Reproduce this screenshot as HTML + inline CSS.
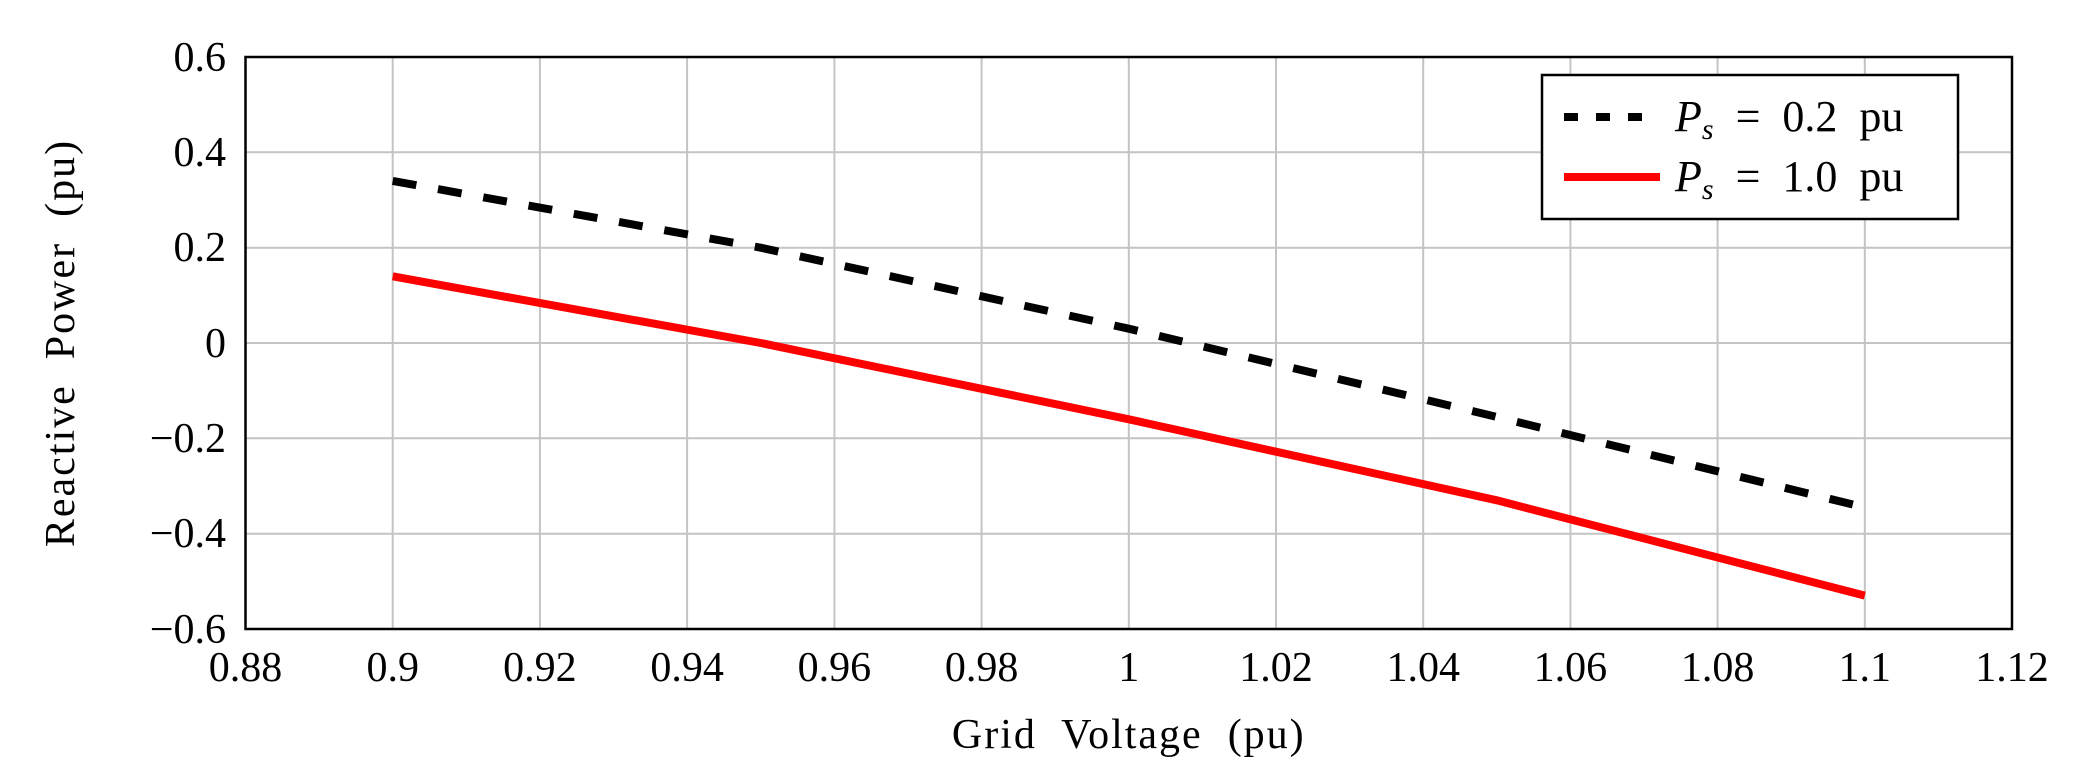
<!DOCTYPE html>
<html><head><meta charset="utf-8"><style>body{margin:0;background:#fff}</style></head><body>
<svg width="2090" height="778" xmlns="http://www.w3.org/2000/svg" font-family="'Liberation Serif', serif">
<g stroke="#c4c4c4" stroke-width="2">
<line x1="392.7" y1="57" x2="392.7" y2="629"/><line x1="539.9" y1="57" x2="539.9" y2="629"/><line x1="687.1" y1="57" x2="687.1" y2="629"/><line x1="834.4" y1="57" x2="834.4" y2="629"/><line x1="981.6" y1="57" x2="981.6" y2="629"/><line x1="1128.8" y1="57" x2="1128.8" y2="629"/><line x1="1276" y1="57" x2="1276" y2="629"/><line x1="1423.2" y1="57" x2="1423.2" y2="629"/><line x1="1570.4" y1="57" x2="1570.4" y2="629"/><line x1="1717.6" y1="57" x2="1717.6" y2="629"/><line x1="1864.8" y1="57" x2="1864.8" y2="629"/>
<line x1="245.5" y1="152.3" x2="2012" y2="152.3"/><line x1="245.5" y1="247.7" x2="2012" y2="247.7"/><line x1="245.5" y1="343" x2="2012" y2="343"/><line x1="245.5" y1="438.3" x2="2012" y2="438.3"/><line x1="245.5" y1="533.7" x2="2012" y2="533.7"/>
</g>
<polyline fill="none" stroke="#000" stroke-width="8" stroke-dasharray="24,22" points="392.7,180.9 760.7,247.7 1128.8,328.7 1496.8,416.9 1864.8,507.5"/>
<polyline fill="none" stroke="#ff0000" stroke-width="8" points="392.7,276.3 760.7,343 1128.8,419.3 1496.8,500.3 1864.8,595.6"/>
<rect x="245.5" y="57" width="1766.5" height="572" fill="none" stroke="#000" stroke-width="2.5"/>
<rect x="1542" y="75" width="416" height="144" fill="#fff" stroke="#000" stroke-width="2.5"/>
<line x1="1564" y1="117" x2="1660" y2="117" stroke="#000" stroke-width="8" stroke-dasharray="14,18"/>
<line x1="1564" y1="177" x2="1660" y2="177" stroke="#ff0000" stroke-width="8"/>
<g font-size="44" fill="#000">
<text x="1675" y="131"><tspan font-style="italic">P</tspan><tspan font-style="italic" font-size="30" dy="8">s</tspan><tspan dy="-8" xml:space="preserve">  =  0.2  pu</tspan></text>
<text x="1675" y="191"><tspan font-style="italic">P</tspan><tspan font-style="italic" font-size="30" dy="8">s</tspan><tspan dy="-8" xml:space="preserve">  =  1.0  pu</tspan></text>
</g>
<g font-size="42" fill="#000" text-anchor="end">
<text x="226" y="71">0.6</text><text x="226" y="166">0.4</text><text x="226" y="261">0.2</text><text x="226" y="357">0</text><text x="226" y="452">−0.2</text><text x="226" y="547">−0.4</text><text x="226" y="643">−0.6</text>
</g>
<g font-size="42" fill="#000" text-anchor="middle">
<text x="245.5" y="681">0.88</text><text x="392.7" y="681">0.9</text><text x="539.9" y="681">0.92</text><text x="687.1" y="681">0.94</text><text x="834.4" y="681">0.96</text><text x="981.6" y="681">0.98</text><text x="1128.8" y="681">1</text><text x="1276" y="681">1.02</text><text x="1423.2" y="681">1.04</text><text x="1570.4" y="681">1.06</text><text x="1717.6" y="681">1.08</text><text x="1864.8" y="681">1.1</text><text x="2012" y="681">1.12</text>
<text x="1128.8" y="748" font-size="42" letter-spacing="2" xml:space="preserve">Grid  Voltage  (pu)</text>
<text x="0" y="0" font-size="42" letter-spacing="2" xml:space="preserve" transform="translate(74,343) rotate(-90)">Reactive  Power  (pu)</text>
</g>
</svg>
</body></html>
